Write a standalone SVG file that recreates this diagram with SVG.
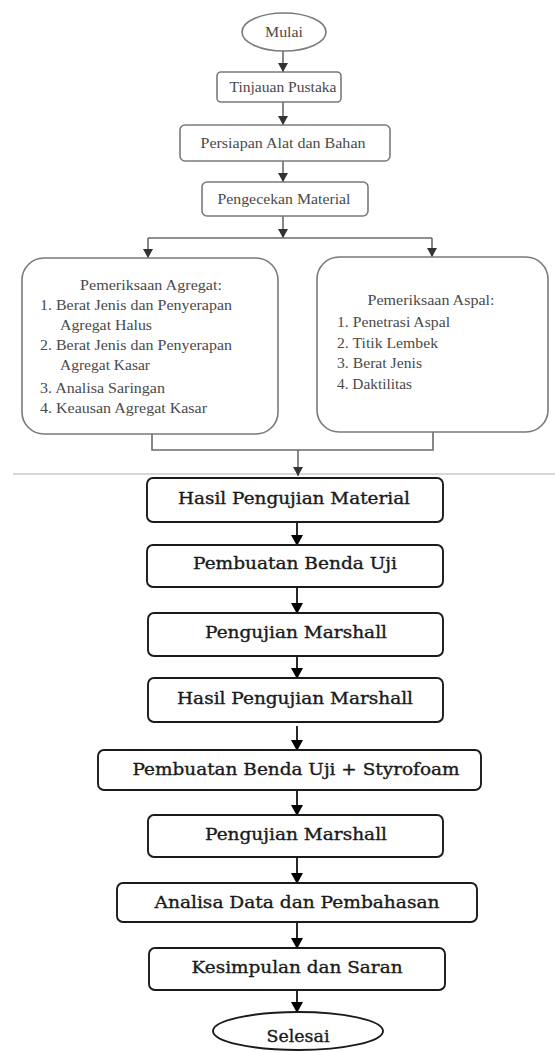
<svg xmlns="http://www.w3.org/2000/svg" width="555" height="1052" viewBox="0 0 555 1052">
<style>
.g{fill:#fff;stroke:#7a7a7a;stroke-width:1.6}
.gt{font-family:"Liberation Serif","Times New Roman",serif;font-size:15px;fill:#4a4a4a}
.b{fill:#fff;stroke:#1a1a1a;stroke-width:1.9}
.bt{font-family:"DejaVu Serif",serif;font-size:16px;fill:#1a1a1a;stroke:#1a1a1a;stroke-width:0.35;text-anchor:middle}
.gl{fill:none;stroke:#6a6a6a;stroke-width:1.6}
.bl{fill:none;stroke:#111;stroke-width:1.8}
.c{text-anchor:middle}
</style>
<defs>
<marker id="ab" markerUnits="userSpaceOnUse" markerWidth="12" markerHeight="12" refX="10" refY="6" orient="auto" viewBox="0 0 12 12">
<path d="M0,0 L11,6 L0,12 Z" fill="#000"/>
</marker>
<marker id="ag2" markerUnits="userSpaceOnUse" markerWidth="10" markerHeight="10" refX="9" refY="5" orient="auto" viewBox="0 0 10 10">
<path d="M0,0 L9,5 L0,10 Z" fill="#333"/>
</marker>
</defs>
<line x1="13" y1="474" x2="555" y2="474" stroke="#b0b0b0" stroke-width="1.2"/>
<g id="connectors">
<line class="gl" x1="283" y1="51" x2="283" y2="72" marker-end="url(#ag2)"/>
<line class="gl" x1="283" y1="102" x2="283" y2="125" marker-end="url(#ag2)"/>
<line class="gl" x1="283" y1="161" x2="283" y2="182" marker-end="url(#ag2)"/>
<line class="gl" x1="283" y1="216" x2="283" y2="238" marker-end="url(#ag2)"/>
<line class="gl" x1="148" y1="238" x2="432" y2="238"/>
<line class="gl" x1="148" y1="238" x2="148" y2="258" marker-end="url(#ag2)"/>
<line class="gl" x1="432" y1="238" x2="432" y2="257" marker-end="url(#ag2)"/>
<polyline class="gl" points="152,434 152,450 433,450 433,432"/>
<line class="gl" x1="298" y1="450" x2="298" y2="476" marker-end="url(#ag2)"/>
<line class="bl" x1="297" y1="522" x2="297" y2="545" marker-end="url(#ab)"/>
<line class="bl" x1="297" y1="587" x2="297" y2="613" marker-end="url(#ab)"/>
<line class="bl" x1="297" y1="656" x2="297" y2="678" marker-end="url(#ab)"/>
<line class="bl" x1="297" y1="726" x2="297" y2="750" marker-end="url(#ab)"/>
<line class="bl" x1="297" y1="790" x2="297" y2="815" marker-end="url(#ab)"/>
<line class="bl" x1="297" y1="857" x2="297" y2="883" marker-end="url(#ab)"/>
<line class="bl" x1="297" y1="922" x2="297" y2="948" marker-end="url(#ab)"/>
<line class="bl" x1="297" y1="990" x2="297" y2="1012" marker-end="url(#ab)"/>
</g>
<g id="mulai">
<ellipse class="g" cx="284" cy="32" rx="42" ry="19"/>
<text class="gt c" x="284" y="37" textLength="38" lengthAdjust="spacingAndGlyphs">Mulai</text>
</g>
<g id="tinjauan">
<rect class="g" x="217" y="72" width="124" height="30" rx="4"/>
<text class="gt c" x="283" y="92" textLength="107" lengthAdjust="spacingAndGlyphs">Tinjauan Pustaka</text>
</g>
<g id="persiapan">
<rect class="g" x="180" y="125" width="210" height="36" rx="5"/>
<text class="gt c" x="283" y="148" textLength="165" lengthAdjust="spacingAndGlyphs">Persiapan Alat dan Bahan</text>
</g>
<g id="pengecekan">
<rect class="g" x="202" y="182" width="166" height="34" rx="5"/>
<text class="gt c" x="284" y="204" textLength="133" lengthAdjust="spacingAndGlyphs">Pengecekan Material</text>
</g>
<g id="agregat">
<rect class="g" x="22" y="258" width="256" height="176" rx="22"/>
<text class="gt c" x="151" y="290" textLength="142" lengthAdjust="spacingAndGlyphs">Pemeriksaan Agregat:</text>
<text class="gt" x="40" y="310" textLength="192" lengthAdjust="spacingAndGlyphs">1. Berat Jenis dan Penyerapan</text>
<text class="gt" x="60" y="330" textLength="92" lengthAdjust="spacingAndGlyphs">Agregat Halus</text>
<text class="gt" x="40" y="350" textLength="192" lengthAdjust="spacingAndGlyphs">2. Berat Jenis dan Penyerapan</text>
<text class="gt" x="60" y="370" textLength="90" lengthAdjust="spacingAndGlyphs">Agregat Kasar</text>
<text class="gt" x="40" y="393" textLength="125" lengthAdjust="spacingAndGlyphs">3. Analisa Saringan</text>
<text class="gt" x="40" y="413" textLength="167" lengthAdjust="spacingAndGlyphs">4. Keausan Agregat Kasar</text>
</g>
<g id="aspal">
<rect class="g" x="317" y="257" width="231" height="175" rx="22"/>
<text class="gt c" x="431" y="305" textLength="127" lengthAdjust="spacingAndGlyphs">Pemeriksaan Aspal:</text>
<text class="gt" x="337" y="327" textLength="113" lengthAdjust="spacingAndGlyphs">1. Penetrasi Aspal</text>
<text class="gt" x="337" y="348" textLength="101" lengthAdjust="spacingAndGlyphs">2. Titik Lembek</text>
<text class="gt" x="337" y="368" textLength="85" lengthAdjust="spacingAndGlyphs">3. Berat Jenis</text>
<text class="gt" x="337" y="389" textLength="75" lengthAdjust="spacingAndGlyphs">4. Daktilitas</text>
</g>
<g id="hasil-material">
<rect class="b" x="147" y="478" width="296" height="44" rx="6"/>
<text class="bt" x="294" y="504" textLength="232" lengthAdjust="spacingAndGlyphs">Hasil Pengujian Material</text>
</g>
<g id="pembuatan">
<rect class="b" x="147" y="545" width="296" height="42" rx="6"/>
<text class="bt" x="295" y="569" textLength="204" lengthAdjust="spacingAndGlyphs">Pembuatan Benda Uji</text>
</g>
<g id="marshall1">
<rect class="b" x="148" y="613" width="295" height="43" rx="6"/>
<text class="bt" x="296" y="638" textLength="182" lengthAdjust="spacingAndGlyphs">Pengujian Marshall</text>
</g>
<g id="hasil-marshall">
<rect class="b" x="148" y="678" width="295" height="44" rx="6"/>
<text class="bt" x="295" y="704" textLength="236" lengthAdjust="spacingAndGlyphs">Hasil Pengujian Marshall</text>
</g>
<g id="pembuatan-styrofoam">
<rect class="b" x="98" y="750" width="383" height="40" rx="6"/>
<text class="bt" x="296" y="775" textLength="327" lengthAdjust="spacingAndGlyphs">Pembuatan Benda Uji + Styrofoam</text>
</g>
<g id="marshall2">
<rect class="b" x="148" y="815" width="295" height="42" rx="6"/>
<text class="bt" x="296" y="840" textLength="182" lengthAdjust="spacingAndGlyphs">Pengujian Marshall</text>
</g>
<g id="analisa">
<rect class="b" x="117" y="883" width="360" height="39" rx="6"/>
<text class="bt" x="297" y="908" textLength="285" lengthAdjust="spacingAndGlyphs">Analisa Data dan Pembahasan</text>
</g>
<g id="kesimpulan">
<rect class="b" x="149" y="948" width="296" height="42" rx="6"/>
<text class="bt" x="297" y="973" textLength="211" lengthAdjust="spacingAndGlyphs">Kesimpulan dan Saran</text>
</g>
<g id="selesai">
<ellipse class="b" cx="298" cy="1031" rx="85" ry="19"/>
<text class="bt" x="298" y="1042" textLength="63" lengthAdjust="spacingAndGlyphs">Selesai</text>
</g>
</svg>
